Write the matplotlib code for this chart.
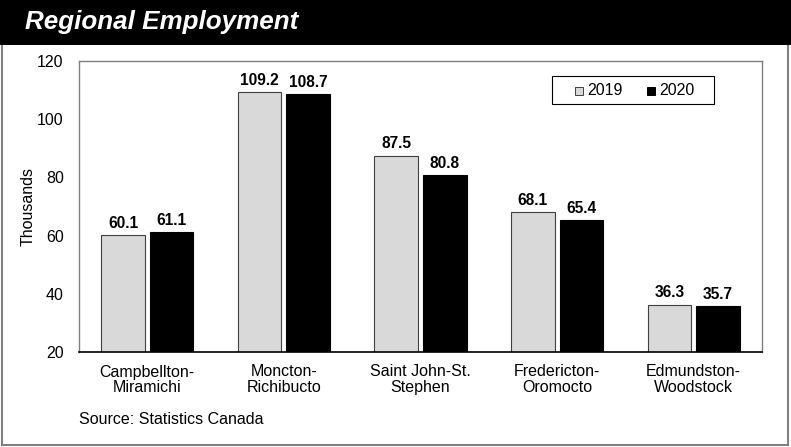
import matplotlib
matplotlib.use("Agg")
import matplotlib.pyplot as plt
from matplotlib.patches import Rectangle
import numpy as np

plt.rcParams['font.family'] = ['Liberation Sans', 'DejaVu Sans']

regions = ["Campbellton-\nMiramichi", "Moncton-\nRichibucto", "Saint John-St.\nStephen",
           "Fredericton-\nOromocto", "Edmundston-\nWoodstock"]
emp_2019 = [60.1, 109.2, 87.5, 68.1, 36.3]
emp_2020 = [61.1, 108.7, 80.8, 65.4, 35.7]
years = ["2019", "2020"]

W, H = 791, 447
fs = 11.5
fig = plt.figure(figsize=(W / 100, H / 100), dpi=100)


def fx(px):
    return px / W


def fy(py):
    return 1 - py / H


# outer frame and title bar
fig.patches.append(Rectangle((fx(2), fy(H - 2)), fx(W - 5), (H - 5) / H, transform=fig.transFigure,
                             fill=False, edgecolor="#808080", linewidth=1.5))
fig.patches.append(Rectangle((0, fy(45)), 1, 45 / H, transform=fig.transFigure,
                             facecolor="black", edgecolor="none"))
fig.text(fx(25), fy(22), "Regional Employment", color="white", fontsize=18.7,
         fontweight="bold", fontstyle="italic", va="center", ha="left")

ax = fig.add_axes([fx(79), fy(352), fx(762 - 79), (352 - 61) / H])
x = np.arange(len(regions))
bw = 0.32
gap = 0.036
colors = ["#d9d9d9", "black"]
edges = ["#404040", "black"]
b1 = ax.bar(x - bw / 2 - gap / 2, emp_2019, bw, color=colors[0],
            edgecolor=edges[0], linewidth=0.8, label=years[0])
b2 = ax.bar(x + bw / 2 + gap / 2, emp_2020, bw, color=colors[1],
            edgecolor=edges[1], linewidth=0.8, label=years[1])
for bars, vals in ((b1, emp_2019), (b2, emp_2020)):
    for r, v in zip(bars, vals):
        ax.text(r.get_x() + r.get_width() / 2, v + 1.5, f"{v:.1f}", ha="center", va="bottom",
                fontsize=11.2, fontweight="bold")

ax.set_ylim(20, 120)
ax.set_xlim(-0.5, len(regions) - 0.5)
ax.set_yticks(range(20, 121, 20))
ax.set_xticks(x)
ax.set_xticklabels(regions, fontsize=fs, linespacing=1.05)
ax.tick_params(axis="both", length=0, labelsize=fs)
ax.tick_params(axis="y", pad=11)
ax.tick_params(axis="x", pad=9)
ax.set_ylabel("Thousands", fontsize=fs, labelpad=1)
for s in ("top", "right", "left"):
    ax.spines[s].set_color("#808080")
    ax.spines[s].set_linewidth(1.0)
ax.spines["bottom"].set_color("black")
ax.spines["bottom"].set_linewidth(1.2)

# legend box drawn in figure coordinates
fig.patches.append(Rectangle((fx(552), fy(104)), fx(714 - 552), (104 - 76) / H,
                             transform=fig.transFigure, facecolor="white",
                             edgecolor="black", linewidth=0.8, zorder=5))
for i, (lab, c, e) in enumerate(zip(years, colors, edges)):
    x0 = 575 + i * 72
    fig.patches.append(Rectangle((fx(x0), fy(95)), fx(8), 8 / H, transform=fig.transFigure,
                                 facecolor=c, edgecolor=e, linewidth=0.7, zorder=6))
    fig.text(fx(x0 + 12), fy(90.5), lab, fontsize=fs, va="center", ha="left", zorder=7)

fig.text(fx(79), fy(420), "Source: Statistics Canada", fontsize=fs, va="center", ha="left")

fig.savefig("out.png", dpi=100)
